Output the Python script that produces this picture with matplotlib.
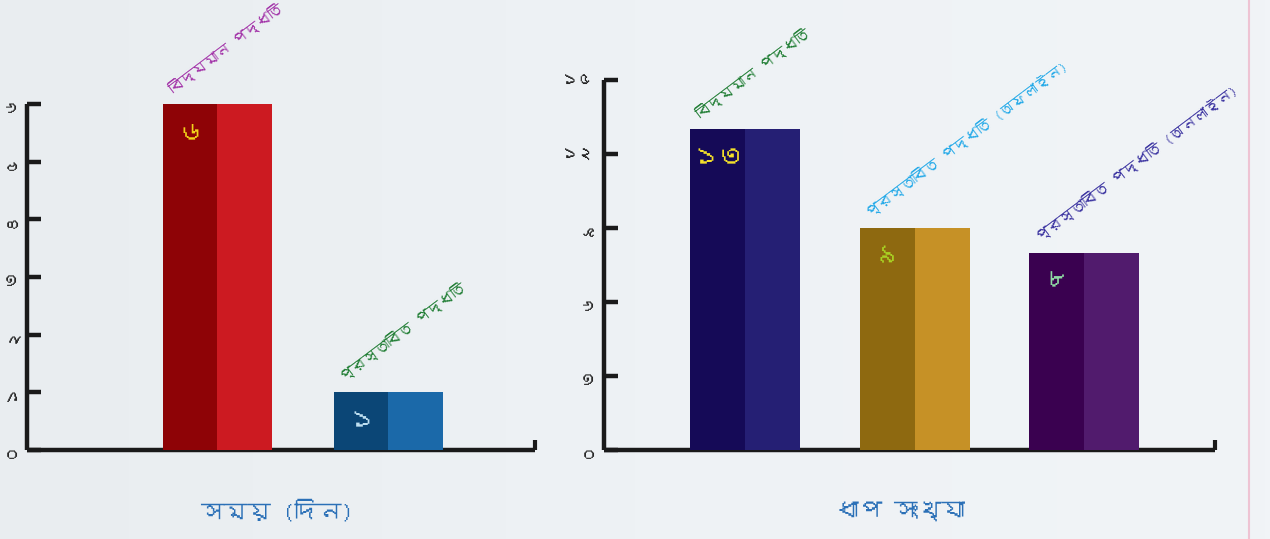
import numpy as np
import matplotlib
matplotlib.use("Agg")
import matplotlib.pyplot as plt
from matplotlib import font_manager as fm
from matplotlib.ft2font import FT2Font
from matplotlib.lines import Line2D
from matplotlib.colors import LinearSegmentedColormap

# ---------------- data ----------------
left_categories = ["বিদ্যমান পদ্ধতি", "প্রস্তাবিত পদ্ধতি"]
left_values = [6, 1]
left_value_labels = ["৬", "১"]
left_yticks = [0, 1, 2, 3, 4, 5, 6]
left_yticklabels = ["০", "১", "২", "৩", "৪", "৫", "৬"]
left_title = "সময় (দিন)"

right_categories = ["বিদ্যমান পদ্ধতি", "প্রস্তাবিত পদ্ধতি (অফলাইন)", "প্রস্তাবিত পদ্ধতি (অনলাইন)"]
right_values = [13, 9, 8]
right_value_labels = ["১৩", "৯", "৮"]
right_yticks = [0, 3, 6, 9, 12, 15]
right_yticklabels = ["০", "৩", "৬", "৯", "১২", "১৫"]
right_title = "ধাপ সংখ্যা"

# ---------------- styles ----------------
left_dark = ["#8E0306", "#0B4676"]
left_light = ["#CC1A21", "#1B69A9"]
left_label_colors = ["#A232A8", "#1F7D33"]
left_value_colors = ["#F2D21A", "#BFE0F2"]

right_dark = ["#150A57", "#8E6910", "#3A0150"]
right_light = ["#251F74", "#C69126", "#511B6D"]
right_label_colors = ["#1F7D33", "#23A9E8", "#3A32A0"]
right_value_colors = ["#F4E02A", "#A9D223", "#8FD9A4"]

# ---------------- fonts ----------------
beng = None
for f in fm.fontManager.ttflist:
    try:
        if ord("ব") in FT2Font(f.fname).get_charmap():
            beng = f.name
            break
    except Exception:
        pass
families = ([beng] if beng else []) + ["DejaVu Sans"]
plt.rcParams["font.family"] = families

W, H = 1270, 539
fig = plt.figure(figsize=(W / 100, H / 100), dpi=100)
fig.patch.set_facecolor("#EDF1F4")

# subtle background gradient
bg = fig.add_axes([0, 0, 1, 1], zorder=-10)
grad = np.vstack([np.linspace(0, 1, 256)] * 2)
cmap = LinearSegmentedColormap.from_list("bg", ["#E9EDF0", "#EEF2F5", "#F1F4F7"])
bg.imshow(grad, aspect="auto", cmap=cmap, extent=[0, 1, 0, 1])
bg.set_axis_off()

# pink frame line at the right edge
fig.add_artist(Line2D([1249 / W, 1249 / W], [0, 1], color="#EEC3D3", lw=1.5,
                      transform=fig.transFigure))


def draw_panel(ax, values, dark, light, labels, label_colors, vlabels, vcolors,
               yticks, yticklabels, xlim, width, title, title_x, label_rot):
    x = np.arange(len(values))
    ax.bar(x - width / 2, values, width / 2, align="edge", color=dark, zorder=3)
    ax.bar(x, values, width / 2, align="edge", color=light, zorder=3)
    for xi, v, lab, lc, vl, vc in zip(x, values, labels, label_colors, vlabels, vcolors):
        ax.annotate(lab, (xi - width / 2, v), xytext=(9, 6), textcoords="offset points",
                    rotation=label_rot, rotation_mode="anchor", ha="left", va="bottom",
                    color=lc, fontsize=10.5, fontweight="bold", annotation_clip=False)
        ax.annotate(vl, (xi - width / 4, v), xytext=(0, -13), textcoords="offset points",
                    ha="center", va="top", color=vc, fontsize=19, fontweight="bold", zorder=5)
    ax.set_xlim(*xlim)
    ax.set_ylim(0, yticks[-1])
    ax.set_facecolor("none")
    for s in ["top", "right"]:
        ax.spines[s].set_visible(False)
    for s in ["left", "bottom"]:
        ax.spines[s].set_linewidth(3.2)
        ax.spines[s].set_color("#1A1A1A")
        ax.spines[s].set_capstyle("butt")
    ax.set_yticks(yticks)
    ax.set_yticklabels(yticklabels, va="center", fontsize=12, color="#262626")
    for t, s in zip(ax.get_yticklabels(), yticklabels):
        t.set_rotation(90 if len(s) == 1 else 0)
    ax.tick_params(axis="y", direction="in", length=10, width=3.2, color="#1A1A1A", pad=7)
    # hooked end of the x axis
    ax.set_xticks([xlim[1]])
    ax.set_xticklabels([""])
    ax.tick_params(axis="x", direction="in", length=7, width=3, color="#1A1A1A")
    fig.text(title_x, 1 - 511 / H, title, ha="center", va="center",
             color="#2B70B7", fontsize=17)


axL = fig.add_axes([27 / W, (H - 450) / H, 508 / W, (450 - 104) / H])
draw_panel(axL, left_values, left_dark, left_light, left_categories, left_label_colors,
           left_value_labels, left_value_colors, left_yticks, left_yticklabels,
           (-1.114, 1.857), 0.64, left_title, 277 / W, 37)

axR = fig.add_axes([604 / W, (H - 450) / H, 611 / W, (450 - 80) / H])
draw_panel(axR, right_values, right_dark, right_light, right_categories, right_label_colors,
           right_value_labels, right_value_colors, right_yticks, right_yticklabels,
           (-0.831, 2.77), 0.65, right_title, 900 / W, 37)

fig.savefig("out.png", dpi=100, facecolor=fig.get_facecolor())
